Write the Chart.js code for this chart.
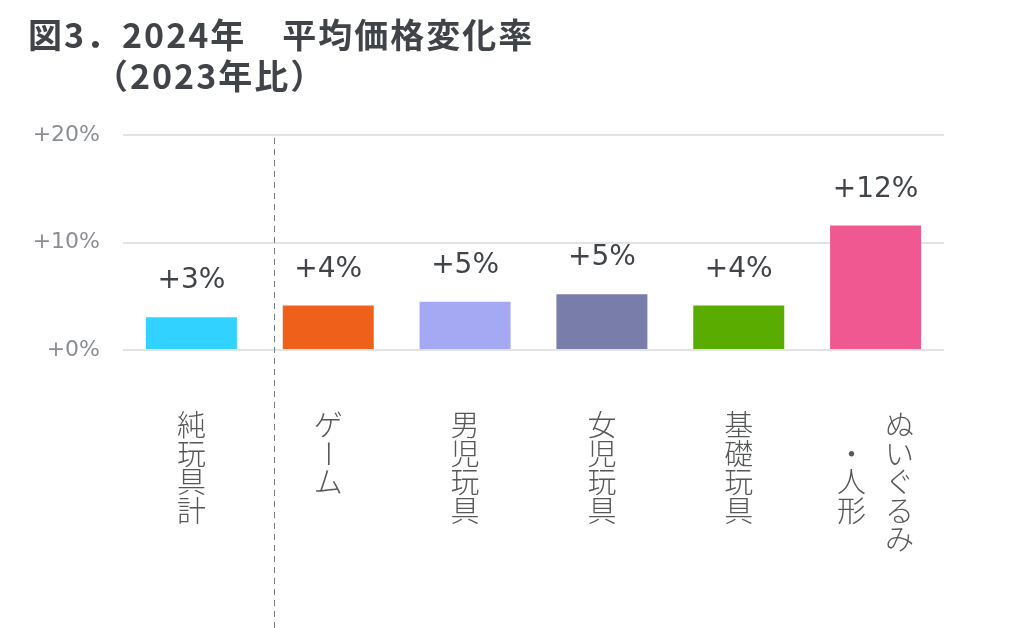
<!DOCTYPE html>
<html><head><meta charset="utf-8">
<script src="https://cdn.jsdelivr.net/npm/chart.js@4.4.1/dist/chart.umd.min.js"></script>
<style>html,body{margin:0;padding:0;background:#fff}canvas{display:block}</style>
</head><body>
<canvas id="c" width="1023" height="628"></canvas>
<script>
const titleLines = ['図3．2024年　平均価格変化率', '（2023年比）'];
const categories = ['純玩具計', 'ゲーム', '男児玩具', '女児玩具', '基礎玩具', 'ぬいぐるみ・人形'];
const changeRates = [3.05, 4.13, 4.5, 5.19, 4.13, 11.58];
const valueLabels = ['+3%', '+4%', '+5%', '+5%', '+4%', '+12%'];
const barColors = ['#31D2FF', '#EF611A', '#A5A9F3', '#797DA9', '#5AAD00', '#EF5890'];
const yTicks = [0, 10, 20];
const yTickLabels = ['+0%', '+10%', '+20%'];

const titlePlugin = {
  id: 'titleText',
  afterDraw(chart) {
    const ctx = chart.ctx;
    ctx.save();
    ctx.fillStyle = '#404348';
    ctx.font = 'bold 34px "Noto Sans CJK JP"';
    ctx.textBaseline = 'middle';
    ctx.textAlign = 'left';
    if ('letterSpacing' in ctx) ctx.letterSpacing = '2px';
    ctx.fillText(titleLines[0], 28, 35);
    ctx.fillText(titleLines[1], 94, 76);
    ctx.restore();
  }
};

const dividerPlugin = {
  id: 'divider',
  beforeDatasetsDraw(chart) {
    const ctx = chart.ctx, xs = chart.scales.x, area = chart.chartArea;
    const x = Math.round(xs.getPixelForValue(0.6)) + 0.5;
    ctx.save();
    ctx.strokeStyle = '#777b80';
    ctx.lineWidth = 1;
    ctx.setLineDash([6, 5]);
    ctx.beginPath();
    ctx.moveTo(x, area.top + 3);
    ctx.lineTo(x, chart.height);
    ctx.stroke();
    ctx.restore();
  }
};

const valueLabelPlugin = {
  id: 'valueLabels',
  afterDatasetsDraw(chart) {
    const ctx = chart.ctx;
    const meta = chart.getDatasetMeta(0);
    ctx.save();
    ctx.fillStyle = '#404448';
    ctx.font = '28px "DejaVu Sans"';
    ctx.textAlign = 'center';
    ctx.textBaseline = 'middle';
    meta.data.forEach((bar, i) => {
      ctx.fillText(valueLabels[i], bar.x, bar.y - 36);
    });
    ctx.restore();
  }
};

const verticalLabelPlugin = {
  id: 'verticalLabels',
  afterDraw(chart) {
    const ctx = chart.ctx, xs = chart.scales.x;
    const maxPerCol = 5, colGap = 48, pitch = 28.5, top = 411;
    ctx.save();
    ctx.fillStyle = '#555759';
    ctx.font = '300 29px "Noto Sans CJK JP"';
    ctx.textAlign = 'center';
    ctx.textBaseline = 'middle';
    categories.forEach((label, i) => {
      const chars = Array.from(label);
      const cols = [];
      for (let k = 0; k < chars.length; k += maxPerCol) cols.push(chars.slice(k, k + maxPerCol));
      const longest = Math.max(...cols.map(c => c.length));
      const cx = xs.getPixelForValue(i);
      cols.forEach((col, j) => {
        const x = cx + (cols.length - 1) / 2 * colGap - j * colGap;
        const off = (longest - col.length) / 2;
        col.forEach((ch, r) => {
          const y = top + pitch / 2 + (r + off) * pitch;
          if (ch === 'ー') {
            ctx.save();
            ctx.translate(x, y);
            ctx.rotate(Math.PI / 2);
            ctx.fillText(ch, 0, 0);
            ctx.restore();
          } else {
            ctx.fillText(ch, x, y);
          }
        });
      });
    });
    ctx.restore();
  }
};

new Chart(document.getElementById('c'), {
  type: 'bar',
  data: {
    labels: categories,
    datasets: [{
      data: changeRates,
      backgroundColor: barColors,
      borderWidth: 0,
      barPercentage: 0.665,
      categoryPercentage: 1.0
    }]
  },
  options: {
    responsive: false,
    animation: false,
    devicePixelRatio: 1,
    layout: { padding: { left: 33, right: 79, top: 135, bottom: 278 } },
    plugins: { legend: { display: false }, tooltip: { enabled: false }, title: { display: false } },
    scales: {
      x: {
        grid: { display: false },
        border: { display: false },
        ticks: { display: false },
        afterFit(s) { s.height = 0; }
      },
      y: {
        min: 0,
        max: 20,
        afterBuildTicks(s) { s.ticks = yTicks.map(v => ({ value: v })); },
        ticks: {
          callback: (v) => yTickLabels[yTicks.indexOf(v)],
          font: { family: 'DejaVu Sans', size: 22 },
          color: '#8a8e94',
          padding: 23
        },
        grid: { color: '#e3e3e3', lineWidth: 2, drawTicks: false },
        border: { display: false },
        afterFit(s) { s.width = 90; }
      }
    }
  },
  plugins: [titlePlugin, dividerPlugin, valueLabelPlugin, verticalLabelPlugin]
});
</script>
</body></html>
